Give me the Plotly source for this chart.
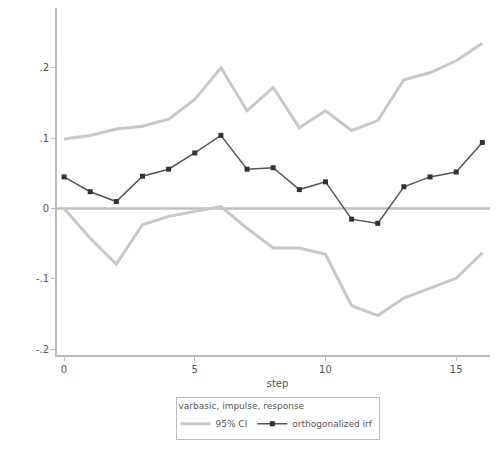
import plotly.graph_objects as go

steps = list(range(17))
upper = [0.099, 0.104, 0.113, 0.117, 0.127, 0.155, 0.200, 0.139, 0.172, 0.115, 0.139, 0.111, 0.125, 0.183, 0.193, 0.210, 0.235]
irf = [0.045, 0.024, 0.010, 0.046, 0.056, 0.079, 0.104, 0.056, 0.058, 0.027, 0.038, -0.015, -0.021, 0.031, 0.045, 0.052, 0.094]
lower = [0.000, -0.042, -0.079, -0.023, -0.011, -0.004, 0.003, -0.028, -0.056, -0.056, -0.065, -0.138, -0.152, -0.127, -0.113, -0.099, -0.063]
x_ticks = [0, 5, 10, 15]
y_ticks = [-0.2, -0.1, 0, 0.1, 0.2]
y_labels = ["-.2", "-.1", "0", ".1", ".2"]

fig = go.Figure()
fig.add_trace(go.Scatter(x=steps, y=upper, mode="lines", name="95% CI",
                         legendgroup="ci", line=dict(color="#c8c8c8", width=3)))
fig.add_trace(go.Scatter(x=steps, y=lower, mode="lines", name="95% CI",
                         legendgroup="ci", showlegend=False,
                         line=dict(color="#c8c8c8", width=3)))
fig.add_trace(go.Scatter(x=steps, y=irf, mode="lines+markers", name="orthogonalized irf",
                         line=dict(color="#555555", width=1.5),
                         marker=dict(symbol="square", size=5, color="#333333")))

fig.add_shape(type="line", xref="paper", x0=0, x1=1, yref="y", y0=0, y1=0,
              line=dict(color="#c0c0c0", width=2.5), layer="below")

fig.update_layout(
    width=498, height=462,
    margin=dict(l=49, r=8, t=0, b=115),
    plot_bgcolor="white", paper_bgcolor="white",
    font=dict(family="DejaVu Sans", size=10, color="#555555"),
    xaxis=dict(range=[-0.27, 16.6], tickvals=x_ticks, showgrid=False, zeroline=False,
               showline=True, linecolor="#bbbbbb", linewidth=2, ticks="outside",
               tickcolor="#bbbbbb", ticklen=4,
               title=dict(text="step", font=dict(size=10), standoff=6)),
    yaxis=dict(range=[-0.208, 0.285], tickvals=y_ticks, ticktext=y_labels, showgrid=False,
               zeroline=False, showline=True, linecolor="#bbbbbb", linewidth=2,
               ticks="outside", tickcolor="#bbbbbb", ticklen=4),
    legend=dict(orientation="h", x=0.5, xanchor="center", y=-0.12, yanchor="top",
                bordercolor="#bbbbbb", borderwidth=1, font=dict(size=9),
                tracegroupgap=0, itemwidth=30,
                title=dict(text="varbasic, impulse, response", side="top", font=dict(size=9))),
)

fig.write_html("out.html")
